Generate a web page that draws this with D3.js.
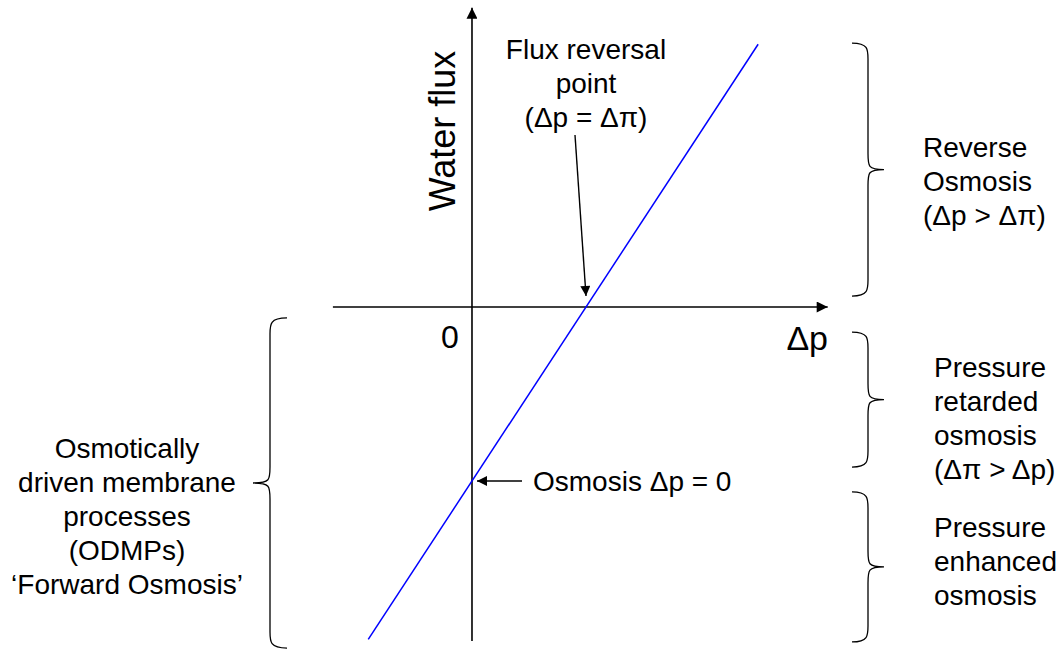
<!DOCTYPE html>
<html>
<head>
<meta charset="utf-8">
<script src="https://cdn.jsdelivr.net/npm/d3@7"></script>
<style>
  body { margin: 0; background: #fff; }
  text { font-family: "Liberation Sans", Arial, sans-serif; fill: #000; }
</style>
</head>
<body>
<svg id="chart" width="1060" height="652"></svg>
<script>
// line: water flux vs applied pressure (delta pi = 1)
var lineDp = [-0.91, 2.51];
var lineFlux = [-1.91, 1.51];
var reversalPoint = [1, 0];
var osmosisPoint = [0, -1];

// regions along the flux axis (top, bottom)
var rightBraces = [[1.517, 0.063], [-0.144, -0.92], [-1.063, -1.925]];
var leftBrace = [-0.063, -1.96];

var rightLabels = [
  ["Reverse", "Osmosis", "(\u0394p > \u0394\u03c0)"],
  ["Pressure", "retarded", "osmosis", "(\u0394\u03c0 > \u0394p)"],
  ["Pressure", "enhanced", "osmosis"]
];
var rightLabelTop = [157, 377, 537];
var rightLabelX = [923, 934, 934];
var leftLabel = ["Osmotically", "driven membrane", "processes", "(ODMPs)", "\u2018Forward Osmosis\u2019"];
var reversalLabel = ["Flux reversal", "point", "(\u0394p = \u0394\u03c0)"];

var svg = d3.select("#chart");

var x = d3.scaleLinear().domain([-1.22, 3.12]).range([332.9, 827.7]);
var y = d3.scaleLinear().domain([-1.92, 1.72]).range([641.08, 7.72]);

var defs = svg.append("defs");
function addMarker(id, w, h) {
  defs.append("marker")
    .attr("id", id)
    .attr("viewBox", "0 0 10 10")
    .attr("refX", 10).attr("refY", 5)
    .attr("markerWidth", w).attr("markerHeight", h)
    .attr("markerUnits", "userSpaceOnUse")
    .attr("orient", "auto")
    .append("path").attr("d", "M0,0 L10,5 L0,10 z").attr("fill", "#000");
}
addMarker("axisHead", 13, 11);
addMarker("noteHead", 12, 10);

// axes
svg.append("line")
  .attr("x1", x(0)).attr("y1", y(-1.92))
  .attr("x2", x(0)).attr("y2", y(1.72))
  .attr("stroke", "#000").attr("stroke-width", 1.6)
  .attr("marker-end", "url(#axisHead)");

svg.append("line")
  .attr("x1", x(-1.22)).attr("y1", y(0))
  .attr("x2", x(3.12)).attr("y2", y(0))
  .attr("stroke", "#000").attr("stroke-width", 1.6)
  .attr("marker-end", "url(#axisHead)");

// flux line
var pts = lineDp.map(function (d, i) { return [d, lineFlux[i]]; });
svg.append("path")
  .datum(pts)
  .attr("d", d3.line().x(function (d) { return x(d[0]); }).y(function (d) { return y(d[1]); }))
  .attr("fill", "none").attr("stroke", "#0000ff").attr("stroke-width", 1.5);

// axis labels
svg.append("text")
  .attr("transform", "translate(455," + 131 + ") rotate(-90)")
  .attr("text-anchor", "middle")
  .attr("font-size", 36)
  .text("Water flux");

svg.append("text")
  .attr("x", x(0) - 22).attr("y", 348)
  .attr("text-anchor", "middle").attr("font-size", 32)
  .text("0");

svg.append("text")
  .attr("x", 828).attr("y", 350)
  .attr("text-anchor", "end").attr("font-size", 34)
  .text("\u0394p");

// flux reversal annotation
svg.append("g").selectAll("text").data(reversalLabel).join("text")
  .attr("x", 586).attr("y", function (d, i) { return 59 + i * 34; })
  .attr("text-anchor", "middle").attr("font-size", 28)
  .text(function (d) { return d; });

svg.append("line")
  .attr("x1", 575).attr("y1", 135)
  .attr("x2", x(reversalPoint[0])).attr("y2", y(reversalPoint[1]) - 11)
  .attr("stroke", "#000").attr("stroke-width", 1.4)
  .attr("marker-end", "url(#noteHead)");

// osmosis annotation
svg.append("line")
  .attr("x1", 522).attr("y1", y(osmosisPoint[1]))
  .attr("x2", x(osmosisPoint[0]) + 5).attr("y2", y(osmosisPoint[1]))
  .attr("stroke", "#000").attr("stroke-width", 1.4)
  .attr("marker-end", "url(#noteHead)");

svg.append("text")
  .attr("x", 533).attr("y", 491)
  .attr("font-size", 28)
  .text("Osmosis \u0394p = 0");

// braces
function bracePath(xEnd, xMid, xTip, top, bottom) {
  var mid = (top + bottom) / 2;
  var r = 16;
  return "M" + xEnd + "," + top +
    " C" + xMid + "," + top + " " + xMid + "," + (top + r * 0.4) + " " + xMid + "," + (top + r) +
    " L" + xMid + "," + (mid - r) +
    " C" + xMid + "," + (mid - r * 0.2) + " " + xMid + "," + mid + " " + xTip + "," + mid +
    " C" + xMid + "," + mid + " " + xMid + "," + (mid + r * 0.2) + " " + xMid + "," + (mid + r) +
    " L" + xMid + "," + (bottom - r) +
    " C" + xMid + "," + (bottom - r * 0.4) + " " + xMid + "," + bottom + " " + xEnd + "," + bottom;
}

svg.append("g").selectAll("path").data(rightBraces).join("path")
  .attr("d", function (d) { return bracePath(852, 868, 884, y(d[0]), y(d[1])); })
  .attr("fill", "none").attr("stroke", "#000").attr("stroke-width", 1.3);

svg.append("path")
  .attr("d", bracePath(287, 270, 253, y(leftBrace[0]), y(leftBrace[1])))
  .attr("fill", "none").attr("stroke", "#000").attr("stroke-width", 1.3);

// region labels
rightLabels.forEach(function (lines, k) {
  svg.append("g").selectAll("text").data(lines).join("text")
    .attr("x", rightLabelX[k]).attr("y", function (d, i) { return rightLabelTop[k] + i * 34; })
    .attr("font-size", 28)
    .text(function (d) { return d; });
});

svg.append("g").selectAll("text").data(leftLabel).join("text")
  .attr("x", 127).attr("y", function (d, i) { return 458 + i * 34; })
  .attr("text-anchor", "middle").attr("font-size", 28)
  .text(function (d) { return d; });
</script>
</body>
</html>
